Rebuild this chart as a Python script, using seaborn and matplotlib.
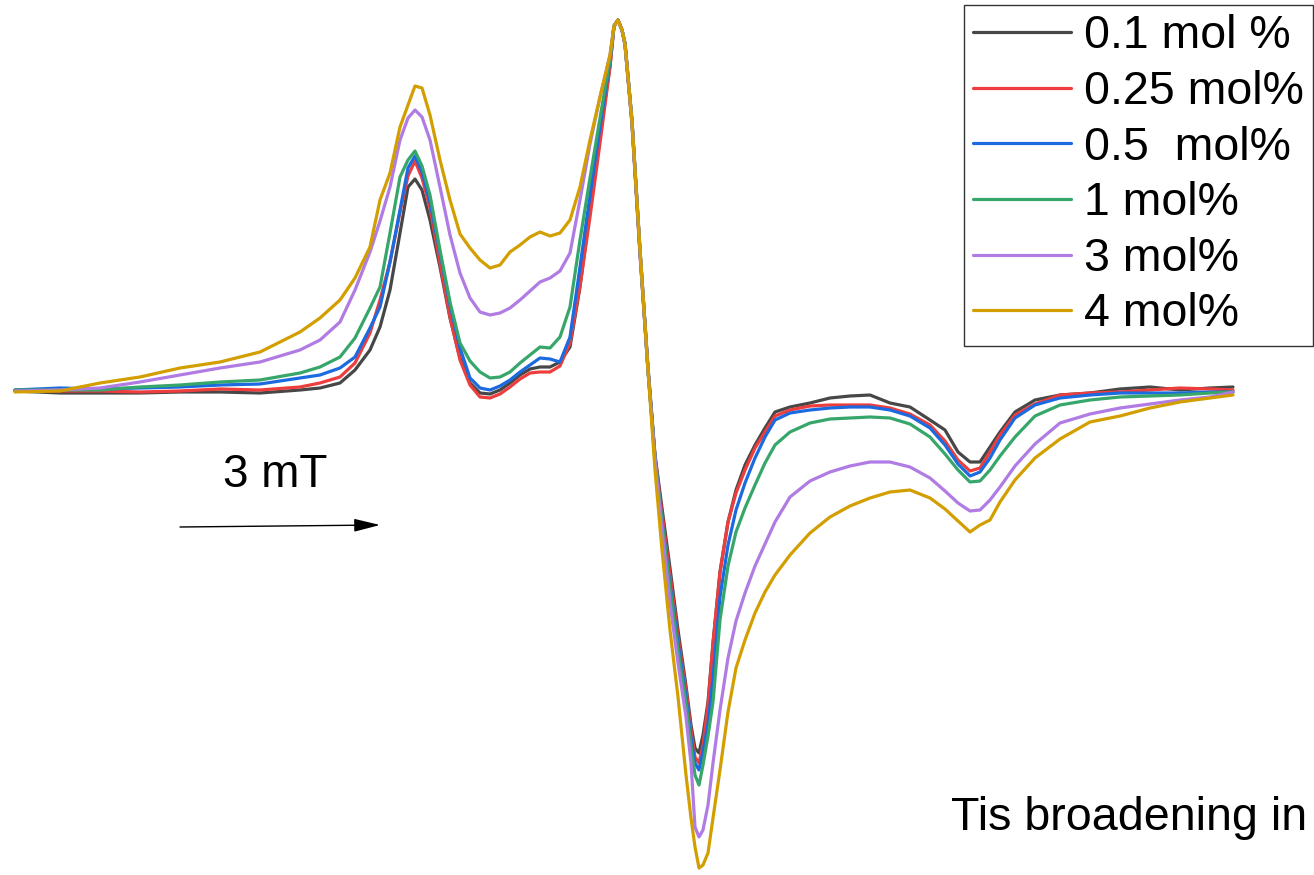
import numpy as np
import pandas as pd
import matplotlib
matplotlib.use("Agg")
import matplotlib.pyplot as plt
import seaborn as sns

# Magnetic field sweep (mT, relative to the start of the sweep)
FIELD_MT = [0.0, 0.675, 1.275, 1.875, 2.475, 3.075, 3.675, 4.275, 4.575, 4.875,
            5.1, 5.325, 5.475, 5.625, 5.775, 5.895, 6.0, 6.105, 6.225, 6.375,
            6.525, 6.675, 6.825, 6.975, 7.125, 7.275, 7.425, 7.575, 7.725, 7.875,
            8.025, 8.175, 8.325, 8.475, 8.625, 8.775, 8.925, 8.985, 9.045, 9.105,
            9.15, 9.255, 9.375, 9.495, 9.6, 9.705, 9.825, 9.945, 10.065, 10.14,
            10.2, 10.26, 10.32, 10.395, 10.47, 10.575, 10.695, 10.815, 10.95, 11.1,
            11.25, 11.4, 11.625, 11.925, 12.225, 12.525, 12.825, 13.125, 13.425, 13.725,
            13.95, 14.145, 14.325, 14.475, 14.625, 14.775, 15.0, 15.3, 15.675, 16.125,
            16.575, 17.025, 17.475, 17.925, 18.27]

# First-derivative EPR signal (a.u.) for each dopant concentration
SIG_0_1 = [-1, -3, -3, -3, -2, -2, -3, 0, 2, 7,
           20, 40, 63, 100, 157, 203, 211, 200, 170, 123,
           72, 32, 7, -3, -4, 0, 7, 15, 21, 23,
           23, 28, 43, 103, 180, 255, 324, 364, 370, 360,
           347, 270, 140, 23, -65, -118, -178, -240, -296, -335,
           -358, -363, -345, -312, -253, -182, -132, -100, -75, -55,
           -38, -22, -17, -13, -8, -6, -5, -13, -17, -30,
           -40, -62, -72, -72, -57, -42, -22, -10, -5, -3,
           1, 3, 0, 2, 3]
SIG_0_25 = [0, -1, -1, -2, -1, 1, 0, 3, 7, 13,
            27, 57, 90, 128, 178, 214, 229, 212, 182, 127,
            73, 30, 5, -7, -8, -4, 3, 11, 17, 18,
            18, 24, 47, 104, 173, 247, 323, 364, 370, 360,
            345, 265, 135, 20, -67, -124, -185, -247, -300, -340,
            -367, -373, -355, -315, -253, -182, -132, -103, -80, -58,
            -42, -26, -20, -16, -15, -15, -15, -18, -24, -35,
            -51, -70, -81, -78, -62, -45, -25, -14, -5, -3,
            -2, 0, 2, 1, 0]
SIG_0_5 = [0, 2, 1, 2, 3, 5, 6, 12, 15, 22,
           33, 62, 83, 128, 180, 222, 234, 218, 188, 137,
           85, 42, 12, 2, 0, 4, 10, 18, 25, 32,
           31, 28, 53, 123, 195, 263, 329, 364, 370, 360,
           346, 268, 138, 20, -67, -131, -194, -253, -307, -348,
           -373, -380, -362, -334, -288, -207, -155, -120, -93, -68,
           -47, -30, -23, -20, -18, -17, -17, -20, -26, -38,
           -55, -74, -86, -82, -68, -50, -28, -15, -8, -5,
           -3, -3, -3, -2, -2]
SIG_1 = [0, 0, 0, 3, 5, 8, 10, 17, 23, 33,
         52, 82, 103, 157, 213, 230, 239, 224, 195, 140,
         88, 47, 29, 18, 12, 13, 18, 27, 35, 43,
         42, 53, 83, 150, 212, 272, 330, 364, 370, 360,
         346, 268, 140, 20, -68, -132, -198, -260, -313, -356,
         -385, -395, -375, -346, -312, -230, -176, -142, -118, -95,
         -73, -55, -42, -33, -29, -28, -27, -28, -34, -47,
         -64, -80, -92, -91, -80, -66, -47, -26, -15, -10,
         -7, -6, -5, -3, -2]
SIG_3 = [-1, 0, 2, 8, 15, 22, 28, 40, 50, 68,
         100, 138, 169, 203, 250, 272, 280, 273, 250, 203,
         155, 117, 92, 78, 75, 77, 82, 90, 99, 108,
         112, 119, 137, 190, 246, 293, 335, 364, 370, 360,
         346, 268, 140, 20, -70, -140, -213, -273, -327, -373,
         -437, -447, -440, -415, -373, -320, -268, -231, -203, -176,
         -154, -132, -107, -91, -82, -76, -72, -72, -77, -88,
         -101, -113, -121, -120, -110, -97, -76, -54, -33, -24,
         -18, -14, -10, -7, -2]
SIG_4 = [-2, -1, 7, 13, 22, 28, 38, 58, 72, 90,
         112, 143, 190, 217, 263, 285, 304, 302, 275, 230,
         190, 156, 142, 130, 122, 125, 138, 145, 153, 158,
         154, 157, 170, 203, 250, 293, 335, 364, 370, 360,
         346, 268, 140, 20, -80, -160, -240, -307, -385, -428,
         -457, -478, -475, -463, -428, -380, -322, -278, -250, -223,
         -202, -185, -165, -143, -127, -116, -108, -102, -100, -108,
         -119, -131, -142, -135, -130, -112, -90, -68, -49, -32,
         -26, -18, -12, -8, -5]

LABELS = ["0.1 mol %", "0.25 mol%", "0.5  mol%", "1 mol%", "3 mol%", "4 mol%"]
COLORS = ["#474747", "#ee3d3d", "#1b6ae0", "#37a66b", "#b07be2", "#d39e00"]
SERIES = [SIG_0_1, SIG_0_25, SIG_0_5, SIG_1, SIG_3, SIG_4]

SCALE_BAR_START = 2.475   # mT
SCALE_BAR_LENGTH = 3.0    # mT

frames = [pd.DataFrame({"field": FIELD_MT, "signal": sig, "sample": lab})
          for sig, lab in zip(SERIES, LABELS)]
df = pd.concat(frames, ignore_index=True)

sns.set_theme(style="white")
plt.rcParams["font.family"] = ["Liberation Sans", "DejaVu Sans"]

fig = plt.figure(figsize=(13.14, 8.75), dpi=100)
ax = fig.add_axes([0, 0, 1, 1])

sns.lineplot(data=df, x="field", y="signal", hue="sample", hue_order=LABELS,
             palette=dict(zip(LABELS, COLORS)), estimator=None, sort=False,
             linewidth=2.3, ax=ax)
for line in ax.get_lines():
    line.set_solid_joinstyle("round")

ax.set_xlim(-0.225, 19.485)
ax.set_ylim(-485, 390)
ax.axis("off")

# field scale bar
ax.annotate("", xy=(SCALE_BAR_START + SCALE_BAR_LENGTH, -135),
            xytext=(SCALE_BAR_START, -137),
            arrowprops=dict(arrowstyle="-|>,head_length=16,head_width=4",
                            mutation_scale=1, lw=1.0, color="black",
                            shrinkA=0, shrinkB=0))
ax.text(3.12, -97, f"{SCALE_BAR_LENGTH:g} mT", fontsize=33, ha="left",
        va="baseline", color="black")

fig.text(951 / 1314, 1 - 830 / 875, "Tis broadening in", fontsize=33.6,
         ha="left", va="baseline", color="black")

sns.move_legend(ax, "upper right", bbox_to_anchor=(1313 / 1314, 1 - 5 / 875),
                bbox_transform=fig.transFigure, title=None, frameon=True,
                fancybox=False, fontsize=33.5, labelcolor="black",
                handlelength=2.1, handletextpad=0.28, borderpad=0.2,
                labelspacing=0.25, borderaxespad=0)
leg = ax.get_legend()
leg.get_frame().set_edgecolor("black")
leg.get_frame().set_linewidth(1.0)
for h in leg.legend_handles:
    h.set_linewidth(2.3)

fig.savefig("out.png", dpi=100, facecolor="white")
